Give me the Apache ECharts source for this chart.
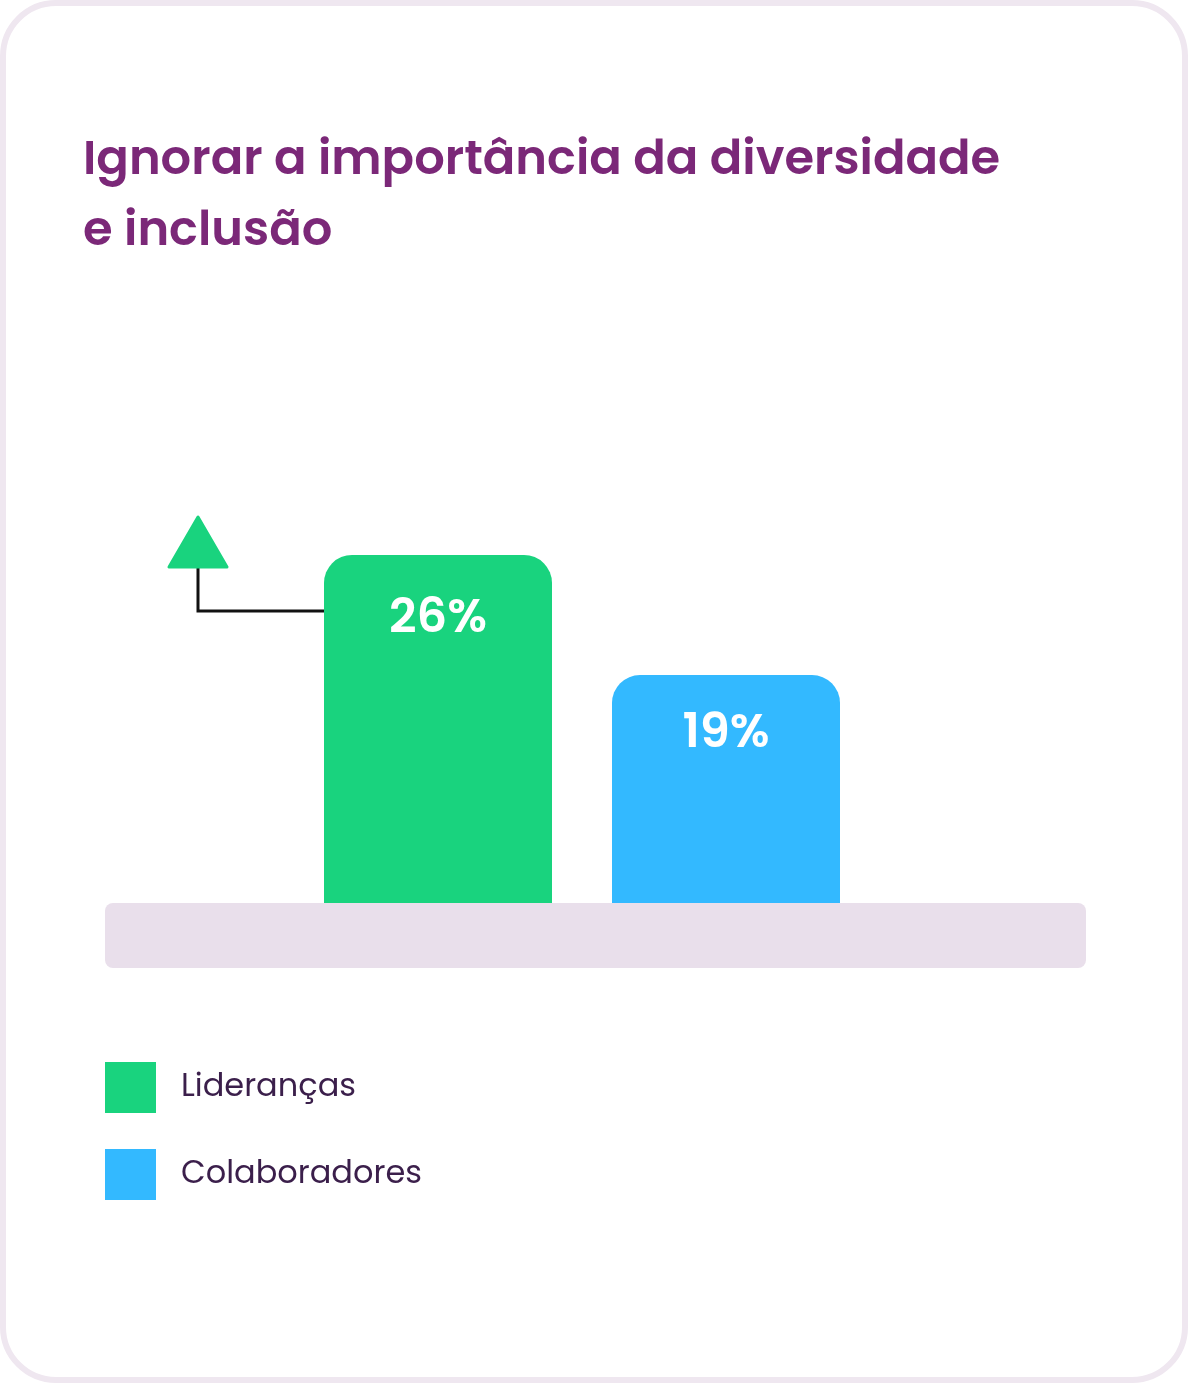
<!DOCTYPE html>
<html>
<head>
<meta charset="utf-8">
<script src="https://cdn.jsdelivr.net/npm/echarts@6/dist/echarts.min.js"></script>
<style>
  html, body { margin: 0; padding: 0; background: #fff; }
  .card {
    position: absolute; left: 0; top: 0; width: 1188px; height: 1383px;
    box-sizing: border-box; border: 6px solid #efe7f0; border-radius: 56px;
  }
  #chart { position: absolute; left: 0; top: 0; width: 1188px; height: 1383px; }
</style>
</head>
<body>
<div class="card"></div>
<div id="chart"></div>
<script>
const categories = ['Lideranças', 'Colaboradores']
const lideranca = [26, '-']
const colaboradores = ['-', 19]
const colors = ['#19d37e', '#33b9ff']

const font = 'Poppins, Inter, sans-serif'
const chart = echarts.init(document.getElementById('chart'))

function barLabel(dist) {
  return {
    show: true,
    position: 'insideTop',
    distance: dist,
    color: '#fff',
    fontSize: 48,
    fontWeight: 600,
    fontFamily: font,
    formatter: p => p.value + '%'
  }
}

chart.setOption({
  animation: false,
  title: {
    text: 'Ignorar a importância da diversidade\ne inclusão',
    left: 78,
    top: 121,
    textStyle: {
      color: '#7b2878',
      fontSize: 48,
      fontWeight: 600,
      fontFamily: font,
      lineHeight: 71
    }
  },
  legend: {
    orient: 'vertical',
    left: 105,
    top: 1062,
    padding: 0,
    itemWidth: 51,
    itemHeight: 51,
    itemGap: 36,
    icon: 'rect',
    itemStyle: { borderWidth: 0 },
    textStyle: {
      color: '#3b1f4b',
      fontSize: 32,
      fontFamily: font,
      padding: [0, 0, 0, 20]
    }
  },
  grid: { left: 294, width: 576, top: 388.7, bottom: 480 },
  xAxis: {
    type: 'category',
    data: categories,
    show: false
  },
  yAxis: {
    type: 'value',
    min: 5.7,
    max: 35.7,
    show: false
  },
  series: [
    {
      name: 'Lideranças',
      type: 'bar',
      stack: 'a',
      barWidth: 228,
      data: lideranca,
      itemStyle: { color: colors[0], borderRadius: [28, 28, 0, 0] },
      label: barLabel(41),
      z: 3
    },
    {
      name: 'Colaboradores',
      type: 'bar',
      stack: 'a',
      barWidth: 228,
      data: colaboradores,
      itemStyle: { color: colors[1], borderRadius: [28, 28, 0, 0] },
      label: barLabel(36),
      z: 3
    }
  ]
})

// base plate and arrow annotation placed from the axes
const baseY = chart.convertToPixel({ yAxisIndex: 0 }, 5.7)
const cx = chart.convertToPixel({ xAxisIndex: 0 }, categories[0])
const topY = chart.convertToPixel({ yAxisIndex: 0 }, lideranca[0])
const barLeft = cx - 114
const stemX = barLeft - 126

chart.setOption({
  graphic: [
    {
      type: 'rect',
      z: 1,
      shape: { x: 105, y: baseY, width: 981, height: 65, r: 8 },
      style: { fill: '#e9dfeb' }
    },
    {
      type: 'polyline',
      z: 2,
      shape: { points: [[stemX, topY + 10], [stemX, topY + 56], [barLeft, topY + 56]] },
      style: { stroke: '#111', lineWidth: 3, fill: null }
    },
    {
      type: 'polygon',
      z: 2,
      shape: { points: [[stemX, topY - 38], [stemX - 29, topY + 12], [stemX + 29, topY + 12]] },
      style: { fill: colors[0], stroke: colors[0], lineWidth: 3, lineJoin: 'round' }
    }
  ]
})
</script>
</body>
</html>
